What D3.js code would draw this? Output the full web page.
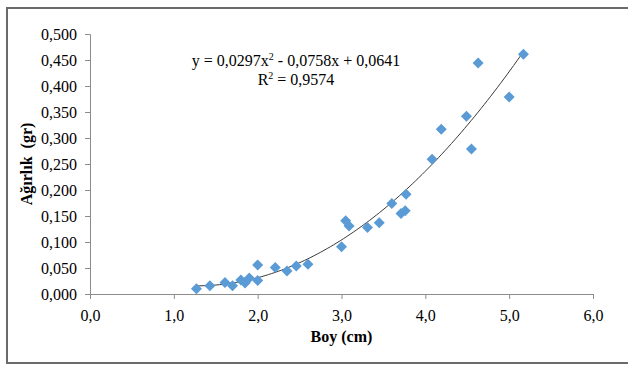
<!DOCTYPE html>
<html>
<head>
<meta charset="utf-8">
<script src="https://cdn.jsdelivr.net/npm/d3@7"></script>
<style>
  body { margin: 0; background: #fff; }
  svg { display: block; font-family: "Liberation Serif", "Times New Roman", serif; }
</style>
</head>
<body>
<div id="chart"></div>
<script>
// boy (cm) and agirlik (gr)
const boy = [1.27, 1.43, 1.61, 1.70, 1.80, 1.85, 1.90, 2.00, 2.00, 2.21, 2.35, 2.46, 2.60,
  3.00, 3.05, 3.09, 3.31, 3.45, 3.60, 3.71, 3.76, 3.77,
  4.08, 4.19, 4.49, 4.55, 4.63, 5.00, 5.17];
const agirlik = [0.010, 0.016, 0.022, 0.016, 0.027, 0.021, 0.031, 0.026, 0.056, 0.051, 0.044, 0.054, 0.057,
  0.091, 0.141, 0.131, 0.128, 0.137, 0.174, 0.155, 0.160, 0.192,
  0.259, 0.317, 0.342, 0.279, 0.444, 0.379, 0.461];

// polynomial trendline y = a x^2 + b x + c
const coef = [0.0297, -0.0758, 0.0641];

const xTicks = [0, 1, 2, 3, 4, 5, 6];
const yTicks = [0, 0.05, 0.1, 0.15, 0.2, 0.25, 0.3, 0.35, 0.4, 0.45, 0.5];

const width = 628, height = 365;
const serif = 'Liberation Serif, Times New Roman, serif';
const trLocale = d3.formatLocale({decimal: ",", thousands: ".", grouping: [3], currency: ["", ""]});

const svg = d3.select('#chart')
  .append('svg')
  .attr('width', width)
  .attr('height', height)
  .attr('font-family', serif);

// outer frame (right edge is off the picture)
svg.append('rect')
  .attr('x', 7).attr('y', 8)
  .attr('width', 640).attr('height', 355)
  .attr('fill', 'none')
  .attr('stroke', '#6a6a6a')
  .attr('stroke-width', 2);

let x = d3.scaleLinear().domain([0, 6]).range([90, 593]);
let y = d3.scaleLinear().domain([0, 0.5]).range([294, 34]);

// y axis
let yAxis = svg.append('g')
  .attr('transform', 'translate(90,0)')
  .call(d3.axisLeft(y).tickValues(yTicks).tickSize(5).tickPadding(8)
    .tickFormat(trLocale.format('.3f')));

// x axis
let xAxis = svg.append('g')
  .attr('transform', 'translate(0,294)')
  .call(d3.axisBottom(x).tickValues(xTicks).tickSize(5).tickPadding(8)
    .tickFormat(trLocale.format('.1f')));

[yAxis, xAxis].forEach(function (ax) {
  ax.attr('font-family', serif).attr('font-size', 16);
  ax.select('.domain').attr('stroke', '#8c8c8c').attr('stroke-width', 1);
  ax.selectAll('.tick line').attr('stroke', '#8c8c8c');
  ax.selectAll('.tick text').attr('fill', '#000');
});
xAxis.selectAll('.tick text').attr('dy', '0.9em');

// axis titles
svg.append('text')
  .attr('x', 341.5).attr('y', 342)
  .attr('text-anchor', 'middle')
  .attr('font-weight', 'bold')
  .attr('font-size', 16)
  .text('Boy (cm)');

svg.append('text')
  .attr('transform', 'translate(32,164) rotate(-90)')
  .attr('text-anchor', 'middle')
  .attr('font-weight', 'bold')
  .attr('font-size', 16)
  .style('white-space', 'pre')
  .text('Ağırlık  (gr)');

// trendline over the data range
let xmin = d3.min(boy), xmax = d3.max(boy);
let trend = d3.range(0, 101).map(function (i) {
  let xv = xmin + (xmax - xmin) * i / 100;
  return [xv, coef[0] * xv * xv + coef[1] * xv + coef[2]];
});
svg.append('path')
  .datum(trend)
  .attr('fill', 'none')
  .attr('stroke', '#3a3a3a')
  .attr('stroke-width', 1)
  .attr('d', d3.line().x((d) => x(d[0])).y((d) => y(d[1])));

// diamond markers
let r = 5.5;
svg.append('g')
  .selectAll('path')
  .data(boy.map((b, i) => [b, agirlik[i]]))
  .enter()
  .append('path')
  .attr('transform', (d) => 'translate(' + x(d[0]) + ',' + y(d[1]) + ')')
  .attr('d', 'M0,' + (-r) + 'L' + r + ',0L0,' + r + 'L' + (-r) + ',0Z')
  .attr('fill', '#5b9bd5');

// equation label
let eq = svg.append('text')
  .attr('x', 296).attr('y', 66)
  .attr('text-anchor', 'middle')
  .attr('font-size', 16);
eq.append('tspan').text('y = 0,0297x');
eq.append('tspan').attr('font-size', 10).attr('dy', -6).text('2');
eq.append('tspan').attr('dy', 6).text(' - 0,0758x + 0,0641');

let r2 = svg.append('text')
  .attr('x', 296).attr('y', 85)
  .attr('text-anchor', 'middle')
  .attr('font-size', 16);
r2.append('tspan').text('R');
r2.append('tspan').attr('font-size', 10).attr('dy', -6).text('2');
r2.append('tspan').attr('dy', 6).text(' = 0,9574');
</script>
</body>
</html>
